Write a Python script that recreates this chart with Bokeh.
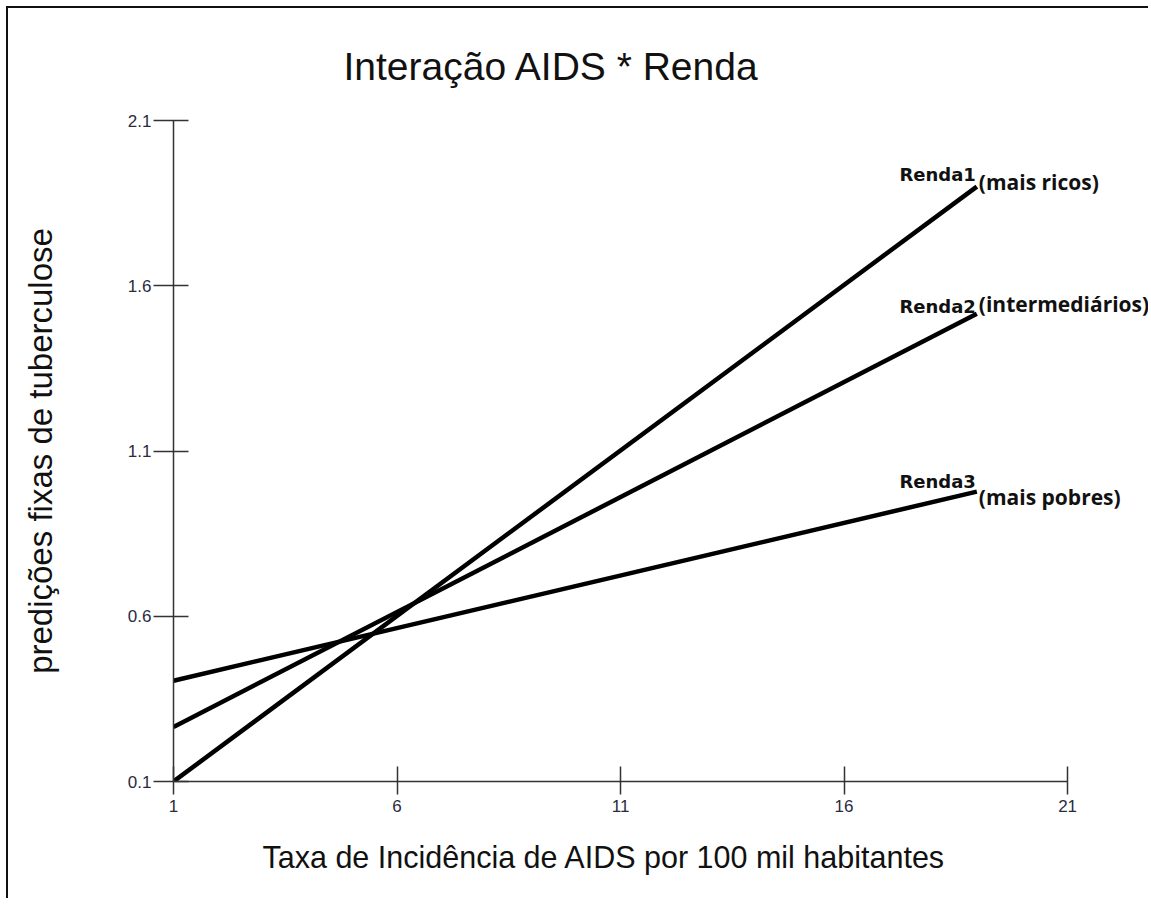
from bokeh.plotting import figure
from bokeh.models import FixedTicker, ColumnDataSource, Title
from bokeh.core.properties import value
from bokeh.embed import file_html
from bokeh.resources import INLINE

# ---- data ----
title_text = "Interação AIDS * Renda"
series_names = ["Renda1", "Renda2", "Renda3"]
series_desc = ["(mais ricos)", "(intermediários)", "(mais pobres)"]
x_vals = [1.0, 18.97]
renda1 = [0.10, 1.90]
renda2 = [0.265, 1.515]
renda3 = [0.405, 0.977]
x_ticks = [1, 6, 11, 16, 21]
y_ticks = [0.1, 0.6, 1.1, 1.6, 2.1]

# label fine offsets (screen px)
name_dy = [-12, -7, -10]
desc_dy = [-5, -10, 5]

p = figure(
    frame_width=975, frame_height=661,
    min_border_left=165, min_border_right=0, min_border_top=112, min_border_bottom=117,
    x_range=(1, 22.81), y_range=(0.1, 2.1),
    output_backend="svg", toolbar_location=None,
    title=title_text,
)
p.styles = {"border-left": "2px solid #111", "border-top": "2px solid #111",
            "border-right": "none", "border-bottom": "none",
            "margin-left": "6px", "margin-top": "6px"}
p.outline_line_color = None
p.xgrid.grid_line_color = None
p.ygrid.grid_line_color = None
p.background_fill_color = "white"
p.border_fill_color = "white"

p.title.text_font = "Liberation Sans"
p.title.text_font_size = "39px"
p.title.text_font_style = "normal"
p.title.text_color = "#111111"
p.title.align = "left"
p.title.offset = 170
p.title.standoff = 65

for ax in (p.xaxis[0], p.yaxis[0]):
    ax.axis_line_color = "#333333"
    ax.axis_line_width = 1.5
    ax.major_tick_line_color = "#333333"
    ax.major_tick_line_width = 1.5
    ax.minor_tick_line_color = None
    ax.major_label_text_font = "Liberation Sans"
    ax.major_label_text_font_size = "17px"
    ax.major_label_text_color = "#2b2b40"
    ax.axis_label_text_font = "Liberation Sans"
    ax.axis_label_text_font_style = "normal"
    ax.axis_label_text_color = "#111111"

p.xaxis.ticker = FixedTicker(ticks=x_ticks)
p.yaxis.ticker = FixedTicker(ticks=y_ticks)
p.xaxis.bounds = (1, 21)
p.xaxis.major_tick_in = 15
p.xaxis.major_tick_out = 13
p.xaxis.major_label_standoff = 5
p.yaxis.major_tick_in = 15
p.yaxis.major_tick_out = 20
p.yaxis.major_label_standoff = 2
p.yaxis.axis_label = "predições fixas de tuberculose"
p.yaxis.axis_label_text_font_size = "33px"
p.yaxis.axis_label_standoff = 66

xlab = Title(text="Taxa de Incidência de AIDS por 100 mil habitantes", align="left",
             offset=89, standoff=46, text_font="Liberation Sans", text_font_size="30.5px",
             text_font_style="normal", text_color="#111111")
p.add_layout(xlab, "below")

for ys in (renda1, renda2, renda3):
    p.line(x_vals, ys, line_color="black", line_width=4.5)

end_x = [x_vals[-1]] * 3
end_y = [renda1[-1], renda2[-1], renda3[-1]]
src = ColumnDataSource(dict(x=end_x, y=end_y, name=series_names, desc=series_desc,
                            ndy=name_dy, ddy=desc_dy))
p.text(x="x", y="y", text="name", source=src, text_align="right", text_baseline="alphabetic",
       x_offset=-1, y_offset="ndy", text_font=value("DejaVu Sans"), text_font_style="bold",
       text_font_size="18px", text_color="#111111")
p.text(x="x", y="y", text="desc", source=src, text_align="left", text_baseline="middle",
       x_offset=2, y_offset="ddy", text_font=value("Open Sans"), text_font_style="bold",
       text_font_size="21px", text_color="#111111")

open("out.html", "w").write(file_html(p, INLINE))
